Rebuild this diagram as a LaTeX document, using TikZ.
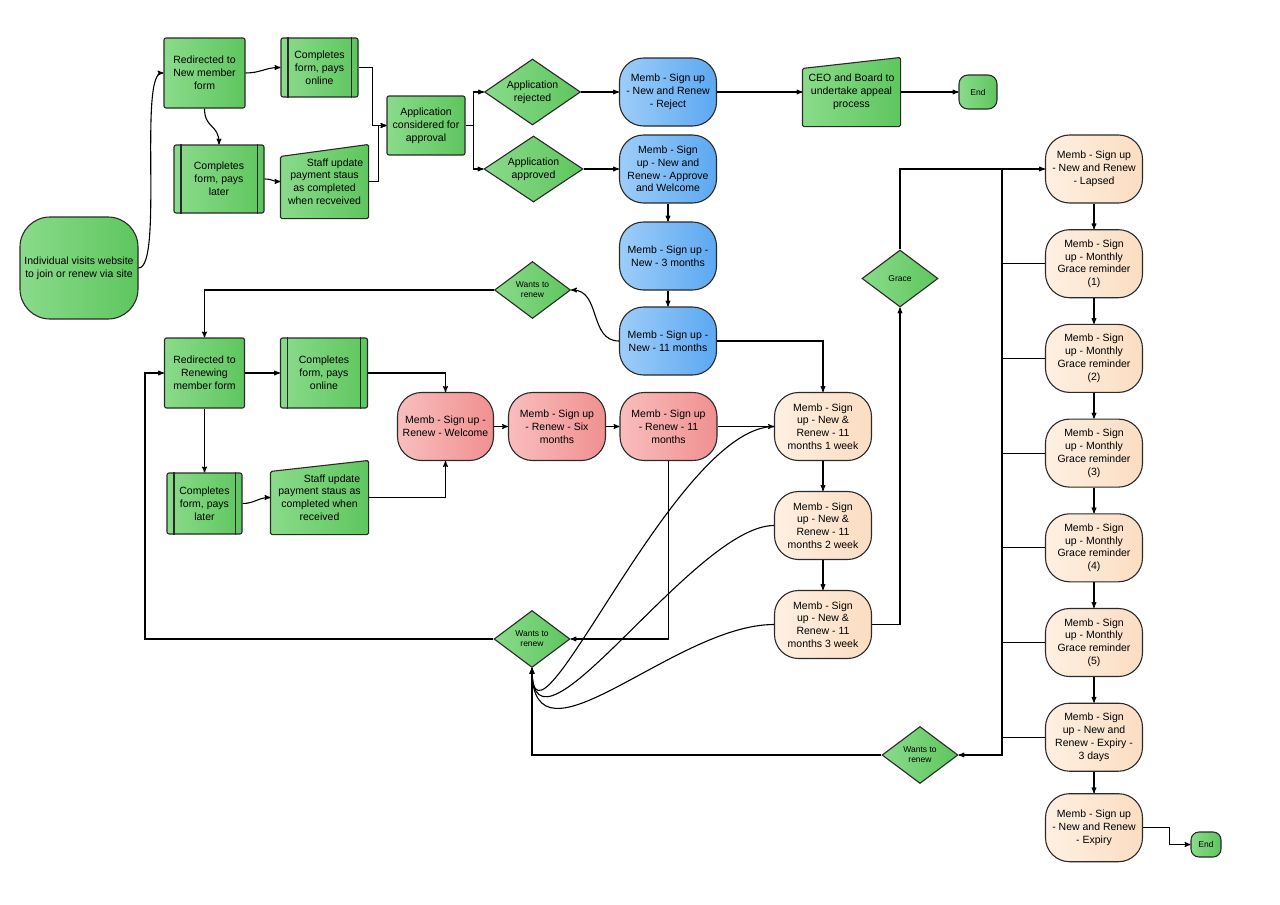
\documentclass[tikz,border=0pt]{standalone}
\usepackage{fontspec}
\setmainfont{Liberation Sans}
\usepackage{tikz}
\usetikzlibrary{shapes.geometric, backgrounds}
\usetikzlibrary{arrows}

\definecolor{grnlite}{HTML}{8ADB8A}
\definecolor{grndark}{HTML}{5EC65E}
\definecolor{blulite}{HTML}{9DCDF9}
\definecolor{bludark}{HTML}{5CA8F1}
\definecolor{redlite}{HTML}{F9BDBD}
\definecolor{reddark}{HTML}{F09090}
\definecolor{pchlite}{HTML}{FEF0E2}
\definecolor{pchdark}{HTML}{FBDDC2}
\definecolor{outline}{HTML}{2A2A2A}

\tikzset{
  shapebox/.style={draw=outline,line width=1.1pt,align=center,inner sep=0pt,
                   font=\fontsize{10.5}{12.8}\selectfont},
  greenbox/.style={shapebox,left color=grnlite,right color=grndark,rounded corners=2pt},
  manualbox/.style={shapebox,draw=none},
  manualfill/.style={-,draw=outline,line width=1.1pt,left color=grnlite,right color=grndark,
                     rounded corners=1.5pt},
  membbox/.style={shapebox,rounded corners=24pt,minimum width=97pt,minimum height=68pt},
  bluebox/.style={membbox,left color=blulite,right color=bludark},
  redbox/.style={membbox,left color=redlite,right color=reddark},
  peachbox/.style={membbox,left color=pchlite,right color=pchdark},
  decision/.style={shapebox,diamond,aspect=1.4,left color=grnlite,right color=grndark,
                   minimum width=76pt,minimum height=57pt,font=\fontsize{8.5}{10}\selectfont},
  endbox/.style={greenbox,rounded corners=9pt,font=\fontsize{8.5}{10}\selectfont},
}

\begin{document}
\begin{tikzpicture}[->,>=stealth',line width=1.1pt,x=1pt,y=1pt]
\path[use as bounding box] (0,0) rectangle (1280,-905);

        % new member
        \node[greenbox,rounded corners=30pt,minimum width=118pt,minimum height=102pt] (visit) at (79,-268) {Individual visits website\\to join or renew via site};
        \node[greenbox,minimum width=81pt,minimum height=70pt]      (newform)    at (204.5,-73)  {Redirected to\\New member\\form};
        \node[greenbox,minimum width=77pt,minimum height=59pt]      (payonline1) at (319.5,-67.5) {Completes\\form, pays\\online};
        \node[greenbox,minimum width=90pt,minimum height=68pt]      (paylater1)  at (219,-179)   {Completes\\form, pays\\later};
        \node[manualbox,minimum width=87pt,minimum height=73pt]     (staff1)     at (324.5,-181.5) {\hspace*{21pt}Staff update\\payment staus\\as completed\\when recveived};
        \node[greenbox,minimum width=78pt,minimum height=59pt]      (consider)   at (426,-125.5) {Application\\considered for\\approval};

        \node[decision,minimum width=96pt,minimum height=66pt,font=\fontsize{10.5}{12.8}\selectfont] (rejected) at (532.5,-92)  {Application\\rejected};
        \node[decision,minimum width=99pt,minimum height=66pt,font=\fontsize{10.5}{12.8}\selectfont] (approved) at (533.5,-169) {Application\\approved};

        \node[bluebox]  (reject)  at (668,-92)  {Memb - Sign up\\- New and Renew\\- Reject};
        \node[bluebox]  (approve) at (668,-169) {Memb - Sign\\up - New and\\Renew - Approve\\and Welcome};
        \node[bluebox]  (m3)      at (668,-256) {Memb - Sign up -\\New - 3 months};
        \node[bluebox]  (m11)     at (668,-341) {Memb - Sign up -\\New - 11 months};

        \node[manualbox,minimum width=97pt,minimum height=68pt] (ceo) at (851.5,-92) {CEO and Board to\\undertake appeal\\process};
        \node[endbox,minimum width=38pt,minimum height=34pt]    (end1) at (978,-92) {End};

        % renewing member
        \node[decision] (wants1) at (532.5,-290) {Wants to\\renew};
        \node[greenbox,minimum width=80pt,minimum height=70pt]  (renewform)  at (204.5,-373) {Redirected to\\Renewing\\member form};
        \node[greenbox,minimum width=87pt,minimum height=70pt]  (payonline2) at (324,-373)   {Completes\\form, pays\\online};
        \node[greenbox,minimum width=75pt,minimum height=61pt]  (paylater2)  at (204.5,-503.5) {Completes\\form, pays\\later};
        \node[manualbox,minimum width=97pt,minimum height=73pt] (staff2)     at (319.5,-497.5) {\hspace*{25pt}Staff update\\payment staus as\\completed when\\received};

        \node[redbox,minimum width=96pt]          (welcome) at (445.5,-426.5) {Memb - Sign up -\\Renew - Welcome};
        \node[redbox,node distance=111.5pt]       (six)  [right of=welcome] {Memb - Sign up\\- Renew - Six\\months};
        \node[redbox,node distance=111.5pt]       (r11)  [right of=six]     {Memb - Sign up\\- Renew - 11\\months};

        \node[peachbox]                           (w1) at (823,-426.5) {Memb - Sign\\up - New \&\\Renew - 11\\months 1 week};
        \node[peachbox,node distance=99pt]        (w2) [below of=w1] {Memb - Sign\\up - New \&\\Renew - 11\\months 2 week};
        \node[peachbox,node distance=99pt]        (w3) [below of=w2] {Memb - Sign\\up - New \&\\Renew - 11\\months 3 week};

        \node[decision] (wants2) at (532,-639)   {Wants to\\renew};
        \node[decision] (grace)  at (900,-278.5) {Grace};

        % grace period
        \node[peachbox]                           (lapsed) at (1094,-169) {Memb - Sign up\\- New and Renew\\- Lapsed};
        \node[peachbox,node distance=94.7pt]      (g1)   [below of=lapsed] {Memb - Sign\\up - Monthly\\Grace reminder\\(1)};
        \node[peachbox,node distance=94.7pt]      (g2)   [below of=g1] {Memb - Sign\\up - Monthly\\Grace reminder\\(2)};
        \node[peachbox,node distance=94.7pt]      (g3)   [below of=g2] {Memb - Sign\\up - Monthly\\Grace reminder\\(3)};
        \node[peachbox,node distance=94.7pt]      (g4)   [below of=g3] {Memb - Sign\\up - Monthly\\Grace reminder\\(4)};
        \node[peachbox,node distance=94.7pt]      (g5)   [below of=g4] {Memb - Sign\\up - Monthly\\Grace reminder\\(5)};
        \node[peachbox,node distance=94.7pt]      (exp3) [below of=g5] {Memb - Sign\\up - New and\\Renew - Expiry -\\3 days};
        \node[peachbox,node distance=90.5pt]      (expiry) [below of=exp3] {Memb - Sign up\\- New and Renew\\- Expiry};
        \node[endbox,minimum width=30pt,minimum height=25pt,rounded corners=8pt] (end2) at (1206,-844.5) {End};

        \node[decision] (wants3) at (920,-755) {Wants to\\renew};

        \coordinate (lbus) at (145,-639);
        \coordinate (rbus) at (1002,-169);

        % slanted tops and white page
        \begin{scope}[on background layer]
          \fill[white] (0,0) rectangle (1280,-905);
          \foreach \n/\s in {staff1/12,staff2/11,ceo/11}
            \draw[manualfill] (\n.south west) -- (\n.south east) -- (\n.north east) -- ([yshift=-\s]\n.north west) -- cycle;
        \end{scope}

        % side bars of the form boxes
        \foreach \n in {payonline1,paylater1,payonline2,paylater2}{
          \draw[-,draw=outline] ([xshift=7.5]\n.north west) -- ([xshift=7.5]\n.south west);
          \draw[-,draw=outline] ([xshift=-7.5]\n.north east) -- ([xshift=-7.5]\n.south east);
        }

        % new member flow
        \draw (visit.east) .. controls +(25,0) and +(-25,0) .. (newform.west);
        \draw (newform.east) .. controls +(15,0) and +(-15,0) .. (payonline1.west);
        \draw (newform.south) .. controls +(0,-20) and +(0,20) .. (paylater1.north);
        \draw (paylater1.east) .. controls +(8,0) and +(-8,0) .. (staff1.west);
        \draw (payonline1.east) -- ++(14,0) |- (consider.west);
        \draw (staff1.east) -- ++(10,0) |- (consider.west);
        \draw (consider.east) -- ++(8,0) |- (rejected.west);
        \draw (consider.east) -- ++(8,0) |- (approved.west);
        \path[->]
        (rejected) edge (reject)
        (approved) edge (approve)
        (reject)   edge (ceo)
        (ceo)      edge (end1)
        (approve)  edge (m3)
        (m3)       edge (m11)
        ; %end path
        \draw (m11.west) .. controls +(-30,0) and +(30,0) .. (wants1.east);
        \draw (m11.east) -| (w1.north);

        % renewal flow
        \draw (wants1.west) -| (renewform.north);
        \path[->]
        (renewform) edge (payonline2)
        (renewform) edge (paylater2)
        (welcome)   edge (six)
        (six)       edge (r11)
        (r11)       edge (w1)
        (w1)        edge (w2)
        (w2)        edge (w3)
        ; %end path
        \draw (payonline2.east) -| (welcome.north);
        \draw (paylater2.east) .. controls +(12,0) and +(-12,0) .. (staff2.west);
        \draw (staff2.east) -| (welcome.south);
        \draw (r11.south) |- (wants2.east);
        \draw (wants2.west) -- (lbus) |- (renewform.west);
        \draw (w1.west) .. controls +(-100,0) and +(0,-110) .. (wants2.south);
        \draw (w2.west) .. controls +(-80,0) and +(0,-110) .. (wants2.south);
        \draw (w3.west) .. controls +(-100,0) and +(0,-110) .. (wants2.south);
        \draw (w3.east) -| (grace.south);
        \draw (grace.north) |- (lapsed.west);

        % grace column
        \foreach \a/\b in {lapsed/g1,g1/g2,g2/g3,g3/g4,g4/g5,g5/exp3,exp3/expiry}
          \draw (\a) -- (\b);
        \foreach \n in {g1,g2,g3,g4,g5,exp3}
          \draw[-] (\n.west) -- (\n.west -| rbus);
        \draw (rbus) |- (wants3.east);
        \draw (wants3.west) -| (wants2.south);
        \draw (expiry.east) -- ++(26,0) |- (end2.west);

\end{tikzpicture}
\end{document}
